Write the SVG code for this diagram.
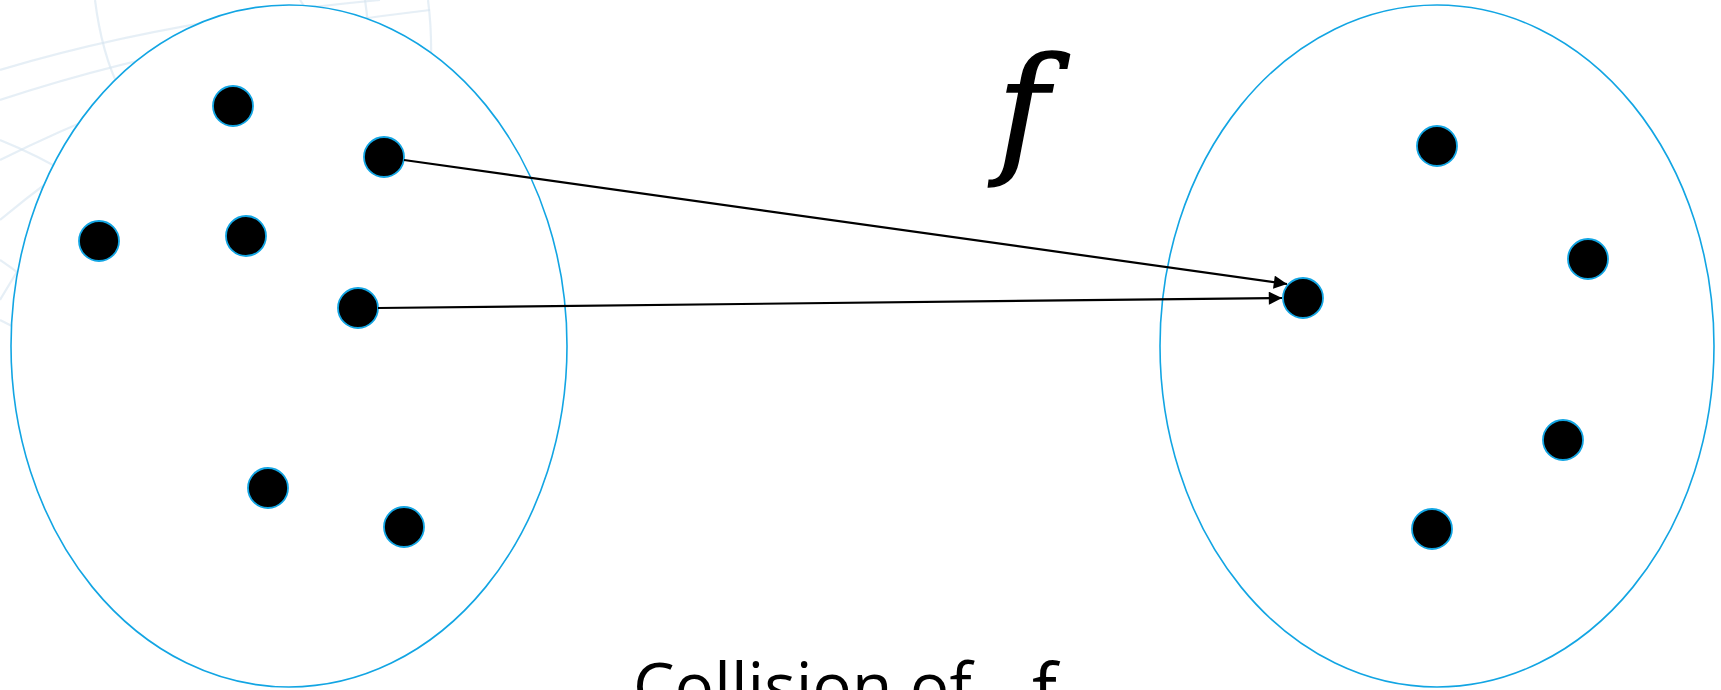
<svg xmlns="http://www.w3.org/2000/svg" width="1721" height="690" viewBox="0 0 1721 690">
<style>
.bg{fill:none;stroke:#d6e4f0;stroke-width:2.2;opacity:0.6}
.set{fill:#fff;stroke:#12a5e3;stroke-width:1.6}
.dot{fill:#000;stroke:#12a5e3;stroke-width:1.8}
.edge{fill:none;stroke:#000;stroke-width:2.2}
.math{font-family:"DejaVu Serif",serif;font-style:italic}
</style>
<defs>
<marker id="ah" viewBox="0 0 10 10" refX="10" refY="5" markerWidth="7" markerHeight="6" markerUnits="strokeWidth" orient="auto">
<path d="M0,0 L10,5 L0,10 z" fill="#000"/>
</marker>
</defs>
<rect width="1721" height="690" fill="#fff"/>
<g id="background">
<path class="bg" d="M0,70 C100,40 220,15 380,0"/>
<path class="bg" d="M0,100 C120,60 260,30 430,10"/>
<path class="bg" d="M0,160 C80,120 180,80 300,45"/>
<path class="bg" d="M0,220 C60,170 130,120 220,80"/>
<path class="bg" d="M0,300 C40,230 90,170 160,120"/>
<path class="bg" d="M0,140 C50,160 100,190 150,230"/>
<path class="bg" d="M0,260 C30,280 50,300 70,330"/>
<path class="bg" d="M95,0 C100,40 110,70 120,90"/>
<path class="bg" d="M300,0 C320,30 340,60 360,80"/>
<path class="bg" d="M365,0 C368,20 370,40 368,60"/>
<path class="bg" d="M428,0 C432,30 432,70 428,110"/>
<path class="bg" d="M0,320 C20,330 40,340 60,360"/>
</g>
<g id="domain">
<ellipse class="set" cx="289" cy="346" rx="278" ry="341"/>
</g>
<g id="codomain">
<ellipse class="set" cx="1437" cy="346" rx="277" ry="341"/>
</g>
<g id="a1"><circle class="dot" cx="233" cy="106" r="20"/></g>
<g id="a2"><circle class="dot" cx="384" cy="157" r="20"/></g>
<g id="a3"><circle class="dot" cx="99" cy="241" r="20"/></g>
<g id="a4"><circle class="dot" cx="246" cy="236" r="20"/></g>
<g id="a5"><circle class="dot" cx="358" cy="308" r="20"/></g>
<g id="a6"><circle class="dot" cx="268" cy="488" r="20"/></g>
<g id="a7"><circle class="dot" cx="404" cy="527" r="20"/></g>
<g id="b1"><circle class="dot" cx="1437" cy="146" r="20"/></g>
<g id="b2"><circle class="dot" cx="1588" cy="259" r="20"/></g>
<g id="b3"><circle class="dot" cx="1303" cy="298" r="20"/></g>
<g id="b4"><circle class="dot" cx="1563" cy="440" r="20"/></g>
<g id="b5"><circle class="dot" cx="1432" cy="529" r="20"/></g>
<g id="connectors">
<line class="edge" x1="404" y1="160" x2="1287" y2="284" marker-end="url(#ah)"/>
<line class="edge" x1="378" y1="308" x2="1282" y2="298" marker-end="url(#ah)"/>
</g>
<g id="label-f">
<text x="997" y="158" class="math" font-size="140" fill="#000" stroke="#000" stroke-width="1.5">f</text>
</g>
<g id="caption">
<text y="710" font-family="Open Sans, Noto Sans, sans-serif" font-size="66" fill="#000"><tspan x="633">Collision of</tspan><tspan x="1032" font-size="74" y="716">f</tspan></text>
</g>
</svg>
